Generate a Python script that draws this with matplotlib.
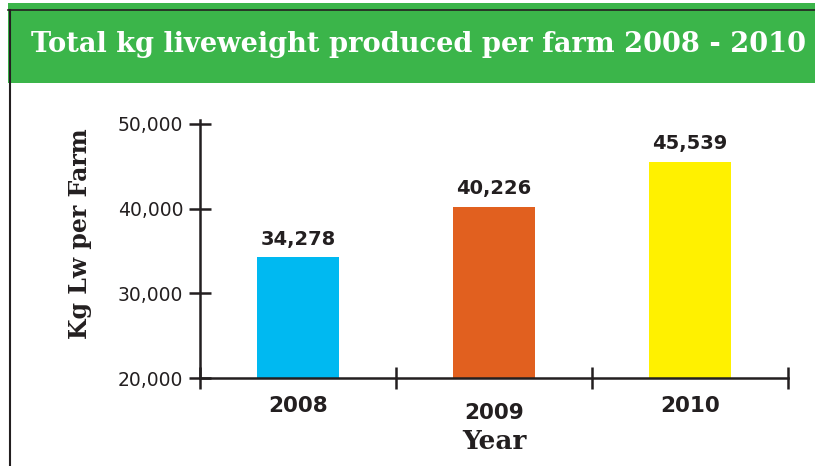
import matplotlib
matplotlib.use("Agg")
import matplotlib.pyplot as plt
import matplotlib.transforms as mtransforms
from matplotlib.patches import Rectangle
from matplotlib.lines import Line2D

years = ["2008", "2009", "2010"]
kg_lw = [34278, 40226, 45539]
colors = ["#00B9F1", "#E1601F", "#FFF100"]

dark = "#231f20"
green = "#3BB54A"

fig = plt.figure(figsize=(8.15, 4.66), dpi=100)
W, H = 815, 466

# green title banner + frame lines
fig.patches.append(Rectangle((8 / W, 1 - 83 / H), 1, 80 / H, transform=fig.transFigure,
                             facecolor=green, edgecolor="none", zorder=0))
fig.lines.append(Line2D([8 / W, 1], [1 - 10 / H, 1 - 10 / H], transform=fig.transFigure,
                        color=dark, lw=1.2))
fig.lines.append(Line2D([9.5 / W, 9.5 / W], [1 - 10 / H, 0], transform=fig.transFigure,
                        color=dark, lw=1.5))
fig.text(418 / W, 1 - 45 / H, "Total kg liveweight produced per farm 2008 - 2010",
         color="white", family="DejaVu Serif", weight="bold", fontsize=19.6,
         ha="center", va="center")

ax = fig.add_axes([200 / W, 88 / H, 588 / W, (378 - 120) / H])
x = [i + 0.5 for i in range(len(years))]
ax.bar(x, [v - 20000 for v in kg_lw], bottom=20000, width=0.42, color=colors, zorder=1)

for xi, v in zip(x, kg_lw):
    ax.annotate(f"{v:,}", (xi, v), xytext=(0, 9), textcoords="offset points",
                ha="center", va="baseline", family="DejaVu Sans", weight="bold",
                fontsize=14, color=dark)

ax.set_xlim(0, 3)
ax.set_ylim(20000, 50450)
ax.set_yticks([20000, 30000, 40000, 50000])
ax.set_yticklabels([f"{t:,}" for t in [20000, 30000, 40000, 50000]],
                   family="DejaVu Sans", fontsize=13.5, color=dark)
ax.set_xticks([0, 1, 2, 3])
ax.set_xticklabels([])
ax.set_xticks(x, minor=True)
ax.set_xticklabels(years, minor=True, family="DejaVu Sans", weight="bold",
                   fontsize=15.5, color=dark)
ax.tick_params(axis="x", which="minor", length=0, pad=13)
ax.tick_params(axis="x", which="major", direction="inout", length=16, width=1.8, color=dark)
ax.tick_params(axis="y", direction="inout", length=16, width=1.8, color=dark, pad=4)

# the 2009 label sits a little lower in the original
lbl = ax.get_xticklabels(minor=True)[1]
lbl.set_transform(lbl.get_transform() + mtransforms.ScaledTranslation(0, -7 / 100, fig.dpi_scale_trans))

for side in ["top", "right"]:
    ax.spines[side].set_visible(False)
for side in ["left", "bottom"]:
    ax.spines[side].set_color(dark)
    ax.spines[side].set_linewidth(1.8)
    ax.spines[side].set_zorder(3)

ax.set_xlabel("Year", family="DejaVu Serif", weight="bold", fontsize=19, color=dark, labelpad=4)
ax.set_ylabel("Kg Lw per Farm", family="DejaVu Serif", weight="bold", fontsize=17, color=dark)
ax.yaxis.set_label_coords(-0.184, 0.558)

fig.savefig("out.png", dpi=100)
